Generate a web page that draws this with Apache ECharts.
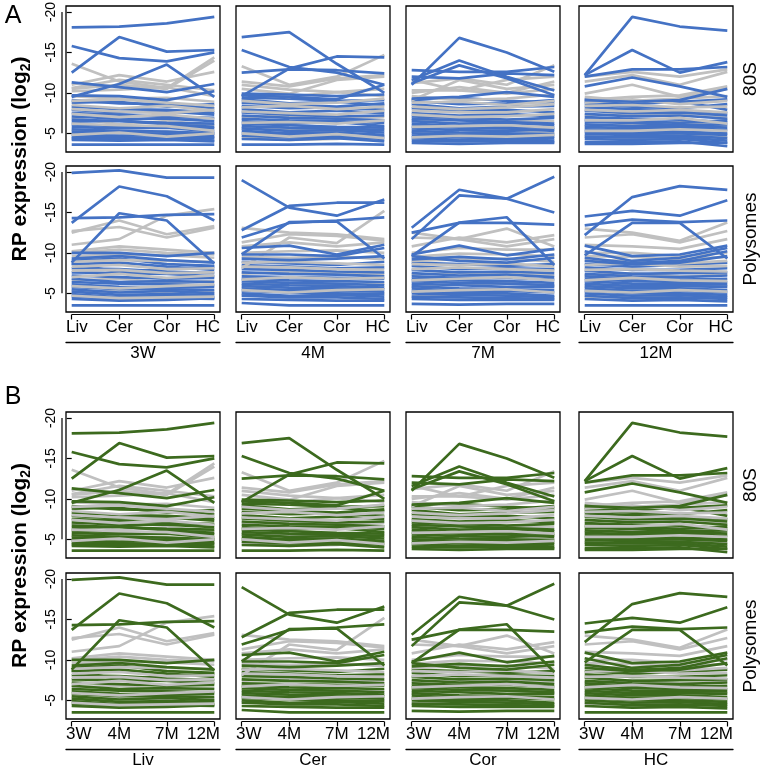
<!DOCTYPE html>
<html><head><meta charset="utf-8">
<script src="https://cdn.jsdelivr.net/npm/echarts@6/dist/echarts.min.js"></script>
<style>html,body{margin:0;padding:0;background:#fff}#c{width:762px;height:771px}</style>
</head><body><div id="c"></div><script>
// x categories and labels
const regions = ['Liv','Cer','Cor','HC'];
const ages = ['3W','4M','7M','12M'];
const yTicks = [-20,-15,-10,-5];
const rowNames = ['80S','Polysomes'];
// Values are magnitudes of RP expression (log2); plotted as negatives (axis shows -20 ... -5)
// Block A, 80S row (x = Liv, Cer, Cor, HC)
const gray80S_3W = [[13.6,11.4,10.6,14.4],[11.0,12.2,11.4,12.6],[10.5,11.0,10.5,14.0],[10.6,11.6,11.0,10.3],[10.2,10.4,10.7,9.6],
 [9.6,9.3,9.4,8.9],[9.0,9.2,8.8,8.4],[8.5,8.1,8.4,7.8],[8.0,7.7,7.5,7.9],[7.4,7.0,7.3,6.8],[6.9,6.1,6.5,6.0],[6.2,6.0,5.9,5.3],[5.4,5.0,5.2,4.9],[4.8,5.1,4.6,5.0],[4.3,4.6,4.3,4.6]];
const blue80S_3W = [[9.1,8.7,8.6,8.1],[8.8,8.9,8.3,8.6],[8.3,8.0,7.9,7.6],[7.9,7.6,7.7,7.3],[7.5,7.3,7.0,6.9],[7.1,6.8,6.8,6.5],[6.7,6.5,6.3,6.2],[6.4,6.6,6.1,5.8],
 [6.1,5.9,5.8,5.6],[5.8,5.6,5.7,5.2],[5.5,5.3,5.2,5.0],[5.2,5.1,4.9,4.8],[4.9,4.7,4.8,4.5],[4.6,4.5,4.4,4.4],[4.4,4.3,4.5,4.1],[4.2,4.1,4.2,4.0],[3.6,3.6,3.6,3.6],
 [18.1,18.2,18.6,19.4],[15.8,14.3,13.9,15.0],[12.5,16.9,15.1,15.3],[9.5,11.1,13.5,9.5],[11.3,10.7,10.1,11.1],[9.7,9.6,9.1,10.2]];
const gray80S_4M = [[13.3,11.0,12.0,14.7],[11.4,10.8,11.8,12.2],[10.5,9.9,11.6,12.0],[11.0,10.4,10.1,10.5],
 [9.8,9.5,10.1,9.6],[9.0,8.6,8.8,9.3],[8.2,8.4,8.0,8.3],[7.7,7.5,7.3,7.8],[7.0,7.2,6.9,7.0],[6.3,6.4,6.2,6.6],[5.6,5.5,5.2,5.5],[5.0,4.6,4.9,4.4],[4.5,4.2,4.3,4.7]];
const blue80S_4M = [[9.4,9.3,9.0,9.1],[9.2,8.7,8.9,8.5],[8.8,8.5,8.3,8.7],[8.4,8.1,8.2,7.9],[8.0,7.6,7.8,7.5],[7.6,7.3,7.1,7.2],[7.2,6.9,6.8,6.6],[6.8,6.6,6.5,6.3],
 [6.5,6.2,6.4,5.9],[6.2,6.0,5.8,5.7],[5.9,5.7,5.6,5.4],[5.6,5.3,5.4,5.1],[5.3,5.0,5.1,4.8],[5.0,4.8,4.7,4.6],[4.7,4.5,4.6,4.3],[4.3,4.2,4.4,4.0],[3.6,3.6,3.7,3.6],
 [16.9,17.5,13.6,10.0],[15.3,13.2,12.5,11.0],[9.6,13.0,14.5,14.4],[12.5,12.9,12.8,12.4],[9.7,9.5,9.2,11.0],[9.9,9.8,9.6,9.8]];
const gray80S_7M = [[11.2,11.8,11.0,13.4],[11.6,10.3,11.6,12.0],[9.1,11.6,10.5,11.0],[10.3,10.3,9.9,10.5],[10.0,10.7,10.0,11.4],
 [9.6,9.1,9.3,9.8],[8.8,8.9,8.5,9.0],[8.3,8.0,8.2,8.6],[7.8,7.6,7.6,8.0],[7.3,7.0,7.1,7.4],[6.6,6.7,6.5,6.5],[5.8,5.9,6.0,5.7],[5.2,5.0,5.4,5.0],[4.5,4.7,4.6,4.8]];
const blue80S_7M = [[9.2,9.4,9.0,8.8],[9.0,8.6,8.7,9.1],[8.6,8.1,8.3,8.4],[8.1,7.8,7.9,7.6],[7.5,7.2,7.4,7.1],[7.1,6.9,6.7,6.9],[6.8,6.6,6.4,6.2],[6.5,6.2,6.3,6.0],
 [6.2,5.9,5.8,5.7],[5.9,5.7,5.6,5.3],[5.6,5.4,5.3,5.5],[5.3,5.1,5.0,4.9],[5.0,4.8,4.8,4.6],[4.7,4.5,4.4,4.4],[4.4,4.2,4.3,4.1],[4.1,4.0,4.1,3.9],[3.8,3.7,3.8,3.8],
 [11.0,16.8,15.0,12.6],[11.6,14.0,12.0,10.3],[11.2,13.4,11.8,9.7],[12.8,12.6,12.6,13.2],[12.0,11.8,12.4,12.2],[9.3,9.5,10.1,9.5]];
const gray80S_12M = [[12.0,12.6,12.0,12.9],[9.9,11.0,9.5,10.5],[11.4,12.2,11.0,12.6],[9.1,9.5,9.7,10.8],
 [9.5,9.0,9.3,9.6],[8.8,9.2,8.6,9.0],[8.4,8.5,8.2,8.3],[7.9,7.7,7.9,7.6],[7.2,7.4,7.3,6.9],[6.6,6.6,6.9,6.2],[5.9,6.1,6.4,5.9],[5.3,5.3,5.5,5.3],[4.6,4.4,4.8,4.5]];
const blue80S_12M = [[8.9,8.6,8.9,9.2],[8.6,8.3,8.1,8.6],[8.2,8.0,7.8,7.5],[7.8,7.5,7.6,7.2],[7.4,7.1,7.2,6.8],[7.0,6.8,6.7,6.4],[6.7,6.5,6.3,6.6],[6.4,6.3,6.0,6.1],
 [6.1,5.9,5.9,5.7],[5.8,5.6,5.7,5.4],[5.5,5.4,5.2,5.0],[5.2,5.0,5.0,4.8],[4.9,4.8,4.7,4.4],[4.6,4.5,4.5,4.1],[4.3,4.2,4.3,3.8],[3.9,3.9,4.0,3.4],[3.7,3.7,3.8,3.8],
 [12.2,19.4,18.2,17.7],[12.2,15.3,12.5,13.8],[12.0,12.9,12.9,13.2],[10.8,11.9,10.8,9.5],[9.1,8.9,9.1,10.5],[9.2,9.0,9.0,7.9]];
// Block A, Polysomes row
const grayPoly_3W = [[12.7,13.2,11.9,13.1],[12.5,14.0,12.3,13.3],[11.0,11.7,14.6,15.4],[10.2,10.8,10.4,10.0],[10.0,10.4,10.0,9.8],
 [9.6,9.8,9.7,9.4],[8.9,9.1,9.0,8.9],[8.3,8.5,8.0,8.1],[7.8,7.9,7.5,7.6],[7.0,7.4,6.9,7.2],[6.6,6.8,6.3,6.5],[5.9,5.6,5.9,6.1],[5.3,5.2,5.1,5.2],[4.7,4.4,4.5,4.6]];
const bluePoly_3W = [[9.0,9.3,8.6,8.4],[8.6,8.8,8.3,7.9],[8.1,8.0,7.7,7.5],[7.6,7.5,7.4,7.1],[7.2,7.0,6.8,6.9],[6.8,6.4,6.5,6.4],[6.4,6.2,6.1,6.0],[6.1,5.8,5.7,5.8],
 [5.8,5.5,5.5,5.4],[5.5,5.1,5.3,5.0],[5.2,4.8,4.9,4.8],[4.9,4.5,4.7,4.5],[4.6,4.3,4.4,4.3],[4.3,4.1,4.2,4.4],[3.5,3.5,3.5,3.5],
 [19.9,20.2,19.3,19.3],[13.7,18.2,17.0,14.0],[14.3,14.4,14.7,14.8],[8.8,14.9,14.0,8.7],[10.0,10.0,9.6,10.0],[9.3,9.6,9.1,8.8],[8.7,7.6,8.0,8.3]];
const grayPoly_4M = [[13.1,12.5,12.3,11.7],[8.1,11.9,11.2,15.2],[11.3,12.3,12.1,11.5],[10.8,11.3,10.8,11.3],
 [10.0,10.2,10.3,10.0],[9.5,9.4,9.6,9.2],[8.8,8.9,8.7,8.5],[8.3,8.2,8.0,7.9],[7.4,7.7,7.5,7.3],[6.7,7.0,6.8,6.9],[6.0,6.2,6.1,6.2],[5.4,5.1,5.4,5.5],[4.8,4.6,4.7,5.0]];
const bluePoly_4M = [[9.3,9.1,9.3,9.6],[8.9,8.7,8.5,8.9],[8.5,8.3,8.1,8.2],[8.0,7.9,7.7,7.6],[7.6,7.4,7.3,7.1],[7.1,7.0,6.9,6.8],[6.8,6.6,6.5,6.4],[6.5,6.3,6.2,6.0],
 [6.2,6.0,5.9,5.7],[5.9,5.7,5.6,5.5],[5.6,5.4,5.3,5.2],[5.3,5.1,5.0,4.9],[5.0,4.7,4.8,4.6],[4.7,4.5,4.5,4.3],[4.3,4.2,4.1,4.1],[3.8,3.5,3.5,3.5],
 [19.0,15.6,14.6,16.6],[12.8,15.8,16.2,16.2],[11.9,13.7,14.0,14.4],[9.8,13.8,13.9,9.3],[10.6,10.9,9.8,11.0],[9.8,9.8,9.6,10.6]];
const grayPoly_7M = [[12.5,11.7,13.0,10.8],[10.8,11.9,11.3,12.2],[11.9,11.7,10.8,11.7],[10.0,10.6,10.4,10.4],
 [9.5,9.9,9.8,9.6],[9.0,9.2,9.3,8.9],[8.6,8.5,8.7,8.3],[8.0,8.2,8.0,7.8],[7.3,7.5,7.5,7.2],[6.6,6.8,7.0,6.6],[5.9,6.1,6.3,5.9],[5.2,5.4,5.5,5.1],[4.6,4.8,4.9,4.6]];
const bluePoly_7M = [[9.2,9.5,9.2,9.8],[8.8,8.6,8.4,8.6],[8.4,8.0,8.1,8.0],[7.9,7.6,7.7,7.5],[7.5,7.2,7.3,7.0],[7.1,6.9,6.9,6.7],[6.8,6.6,6.5,6.3],[6.5,6.3,6.2,6.0],
 [6.2,6.0,5.8,5.8],[5.9,5.6,5.5,5.4],[5.6,5.3,5.3,5.1],[5.3,5.0,5.0,4.7],[5.0,4.8,4.7,4.5],[4.6,4.5,4.4,4.3],[4.3,4.2,4.2,4.2],[3.7,3.6,3.7,3.7],
 [13.1,17.8,16.7,19.4],[11.7,17.1,16.7,15.0],[12.5,13.7,13.7,13.5],[9.6,13.75,14.4,8.5],[9.8,10.9,9.7,10.5],[9.6,9.0,8.8,9.4]];
const grayPoly_12M = [[13.0,12.5,11.5,13.75],[11.9,12.3,11.3,12.7],[11.0,10.8,10.5,11.7],[10.0,10.0,9.6,10.0],
 [9.6,9.5,9.2,9.5],[9.1,9.0,8.7,9.0],[8.5,8.7,8.3,8.4],[7.9,8.0,7.8,7.7],[7.2,7.5,7.1,7.3],[6.6,6.9,6.6,6.5],[5.9,6.0,6.1,5.9],[5.3,5.1,5.4,5.2],[4.6,4.5,4.6,4.7]];
const bluePoly_12M = [[9.0,8.6,8.8,9.6],[8.6,8.3,8.5,8.8],[8.2,7.9,7.9,8.1],[7.8,7.4,7.5,7.6],[7.4,7.1,7.0,7.2],[7.1,6.8,6.7,6.8],[6.8,6.5,6.4,6.4],[6.5,6.2,6.1,6.1],
 [6.2,5.9,5.9,5.8],[5.9,5.6,5.6,5.4],[5.6,5.3,5.3,5.1],[5.3,5.0,5.0,4.8],[5.0,4.7,4.8,4.5],[4.7,4.4,4.5,4.3],[4.3,4.1,4.2,4.0],[3.5,3.5,3.5,3.5],
 [12.2,16.9,18.25,17.8],[14.5,15.2,14.6,16.5],[13.4,14.1,13.8,14.0],[9.7,13.7,13.7,9.3],[10.9,9.6,9.8,10.9],[10.2,9.0,9.4,10.6],[9.4,8.75,9.0,10.2]];

// In the reference, block B panels repeat the block A panel traces (drawn in green).
const panelData = [
  [[gray80S_3W,blue80S_3W],[gray80S_4M,blue80S_4M],[gray80S_7M,blue80S_7M],[gray80S_12M,blue80S_12M]],
  [[grayPoly_3W,bluePoly_3W],[grayPoly_4M,bluePoly_4M],[grayPoly_7M,bluePoly_7M],[grayPoly_12M,bluePoly_12M]]
];

const FONT = '"Liberation Sans", Arial, Helvetica, sans-serif';
const colLeft = [66, 236, 406, 579], W = 154;
const rowTop = [6, 166, 412, 573], H = 146;
const XMIN = -0.12, XMAX = 3.12, YMIN = -20.74, YMAX = -2.69;
const GRAY = '#c0c0c0', BLUE = '#4472c4', GREEN = '#3c6a1e';
const LW = 2.7;

const ctx = document.createElement('canvas').getContext('2d');
ctx.font = '17px ' + FONT;
const tickInset = W * (0 - XMIN) / (XMAX - XMIN);
function edgePad(s){ const w = ctx.measureText(s).width; return Math.max(0, 2*(w/2 - tickInset)); }
const mean = a => a.reduce((s, v) => s + v, 0) / a.length;

const grids = [], xAxes = [], yAxes = [], series = [];
const spines = [];
function lineSeries(xi, yi, line, col){
  return {type: 'line', xAxisIndex: xi, yAxisIndex: yi, silent: true, symbol: 'none', animation: false, z: 2,
    lineStyle: {color: col, width: LW}, data: line.map((v, i) => [i, -v])};
}
for (let b = 0; b < 2; b++) {
  const xLabels = b === 0 ? regions : ages;
  const groupLabels = b === 0 ? ages : regions;
  const color = b === 0 ? BLUE : GREEN;
  for (let r = 0; r < 2; r++) {
    for (let c = 0; c < 4; c++) {
      const gi = grids.length;
      const top = rowTop[b*2 + r];
      grids.push({left: colLeft[c], top: top, width: W, height: H, show: true, containLabel: false,
        outerBoundsMode: 'none',
        borderColor: '#000', borderWidth: 1.3, backgroundColor: 'transparent'});
      const isBottom = r === 1;
      const padL = edgePad(xLabels[0]), padR = edgePad(xLabels[3]);
      const xi = xAxes.length;
      xAxes.push({gridIndex: gi, type: 'value', min: XMIN, max: XMAX, position: 'bottom', offset: 2.5,
        axisLine: {show: false}, splitLine: {show: false},
        axisTick: {show: isBottom, customValues: [0,1,2,3], length: 5, lineStyle: {color: '#000', width: 1.2}},
        axisLabel: {show: isBottom, customValues: [0,1,2,3], margin: 4, fontSize: 17, color: '#000', fontFamily: FONT,
          formatter: (v) => { const i = Math.round(v);
            if (i === 0) return '{l|' + xLabels[0] + '}';
            if (i === 3) return '{r|' + xLabels[3] + '}';
            return xLabels[i]; },
          rich: {l: {fontSize: 17, fontFamily: FONT, color: '#000', padding: [0,0,0,padL]},
                 r: {fontSize: 17, fontFamily: FONT, color: '#000', padding: [0,padR,0,0]}}}});
      if (isBottom) {
        xAxes.push({gridIndex: gi, type: 'value', min: XMIN, max: XMAX, position: 'bottom', offset: 30,
          axisLine: {show: true, lineStyle: {color: '#000', width: 1.3}}, axisTick: {show: false},
          axisLabel: {show: false}, splitLine: {show: false},
          name: groupLabels[c], nameLocation: 'middle', nameGap: 3,
          nameTextStyle: {fontSize: 17, color: '#000', fontFamily: FONT, verticalAlign: 'top'}});
      }
      const yi = yAxes.length;
      yAxes.push({gridIndex: gi, type: 'value', inverse: true, min: YMIN, max: YMAX, offset: 4,
        axisLine: {show: false}, splitLine: {show: false},
        axisTick: {show: c === 0, customValues: yTicks, length: 5, lineStyle: {color: '#000', width: 1.2}},
        axisLabel: {show: c === 0, customValues: yTicks, rotate: 90, margin: 4, fontSize: 14, color: '#000', fontFamily: FONT,
          formatter: (v) => String(v)}});
      spines.push({xi, yi, c, isBottom});
      // drawing order: some low gray traces under the coloured band, the rest over it, outlying coloured traces last
      const [grayLines, colorLines] = panelData[r][c];
      const grayUnder = grayLines.filter((l, k) => mean(l) < 7.5 && k % 2 === 0);
      const grayOver = grayLines.filter((l, k) => !(mean(l) < 7.5 && k % 2 === 0));
      const colBand = colorLines.filter(l => Math.max(...l) < 9.45);
      const colTop = colorLines.filter(l => Math.max(...l) >= 9.45);
      grayUnder.forEach(l => series.push(lineSeries(xi, yi, l, GRAY)));
      colBand.forEach(l => series.push(lineSeries(xi, yi, l, color)));
      grayOver.forEach(l => series.push(lineSeries(xi, yi, l, GRAY)));
      colTop.forEach(l => series.push(lineSeries(xi, yi, l, color)));
    }
  }
}

const texts = [];
[[0, 'A'], [1, 'B']].forEach(([b, t]) => {
  texts.push({type: 'text', x: 13, y: b === 0 ? 16 : 397, style: {text: t, fontSize: 25, fontFamily: FONT, fill: '#000', align: 'center', verticalAlign: 'middle'}});
  const yc = (rowTop[b*2] + rowTop[b*2+1] + H) / 2;
  texts.push({type: 'text', x: 20, y: yc, rotation: Math.PI/2,
    style: {text: '{a|RP expression (log}{s|2}{a|)}', align: 'center', verticalAlign: 'middle', fill: '#000',
      rich: {a: {fontSize: 21, fontWeight: 'bold', fontFamily: FONT, fill: '#000'},
             s: {fontSize: 14, fontWeight: 'bold', fontFamily: FONT, fill: '#000', padding: [12,0,0,0]}}}});
  for (let r = 0; r < 2; r++) {
    texts.push({type: 'text', x: 751, y: rowTop[b*2+r] + H/2, rotation: Math.PI/2,
      style: {text: rowNames[r], fontSize: 19, fontFamily: FONT, fill: '#000', align: 'center', verticalAlign: 'middle'}});
  }
});

const chart = echarts.init(document.getElementById('c'), null, {renderer: 'canvas'});
chart.setOption({animation: false, backgroundColor: '#fff', grid: grids, xAxis: xAxes, yAxis: yAxes, series: series, graphic: texts});

// R-style axis spines spanning only the tick range, positioned through the axes' own scales
const lines = [];
spines.forEach(s => {
  if (s.c === 0) {
    const p1 = chart.convertToPixel({xAxisIndex: s.xi, yAxisIndex: s.yi}, [XMIN, yTicks[0]]);
    const p2 = chart.convertToPixel({xAxisIndex: s.xi, yAxisIndex: s.yi}, [XMIN, yTicks[3]]);
    lines.push({type: 'line', shape: {x1: p1[0] - 4, y1: p1[1], x2: p2[0] - 4, y2: p2[1]}, style: {stroke: '#000', lineWidth: 1.2}});
  }
  if (s.isBottom) {
    const q1 = chart.convertToPixel({xAxisIndex: s.xi, yAxisIndex: s.yi}, [0, YMAX]);
    const q2 = chart.convertToPixel({xAxisIndex: s.xi, yAxisIndex: s.yi}, [3, YMAX]);
    lines.push({type: 'line', shape: {x1: q1[0], y1: q1[1] + 2.5, x2: q2[0], y2: q2[1] + 2.5}, style: {stroke: '#000', lineWidth: 1.2}});
  }
});
chart.setOption({graphic: texts.concat(lines)});
</script></body></html>
